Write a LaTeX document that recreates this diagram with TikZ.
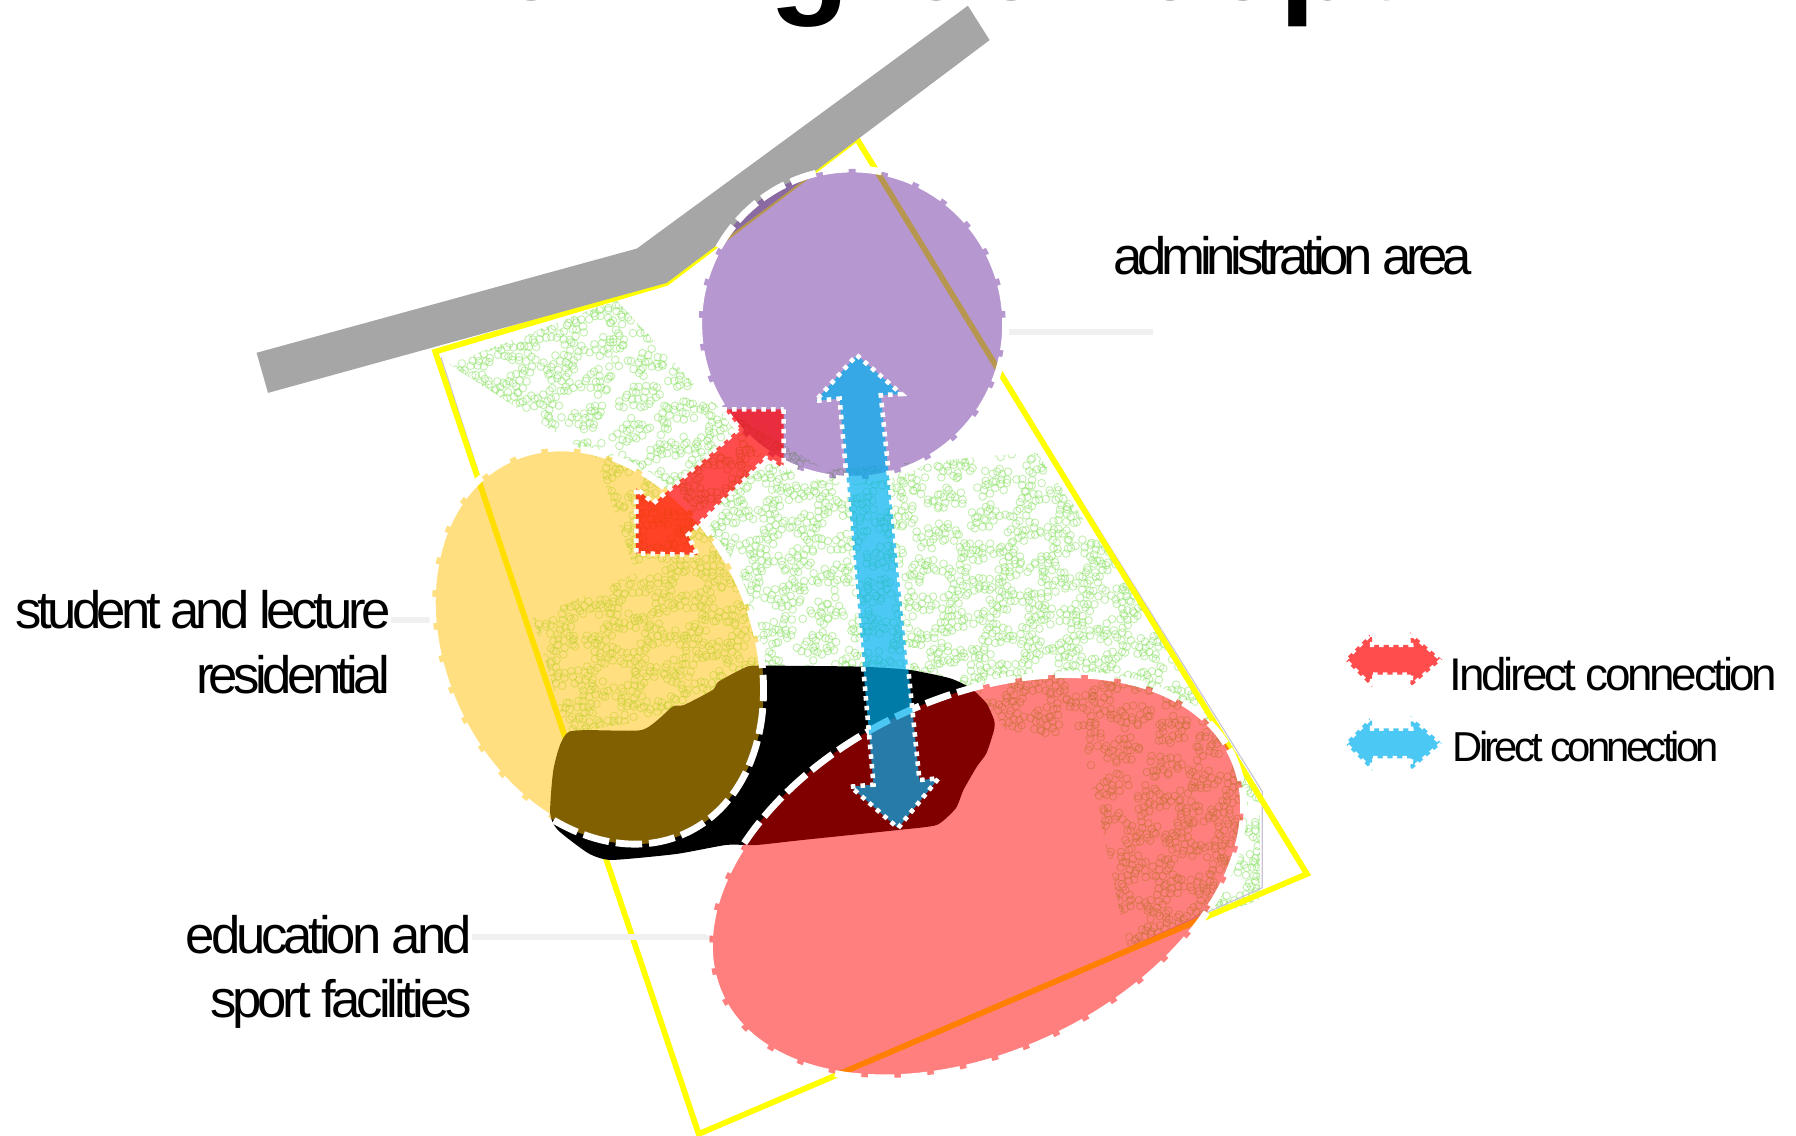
\documentclass[tikz,border=0pt]{standalone}
\usepackage{fontspec}
\setmainfont{Liberation Sans}
\newfontfamily\lblA[LetterSpace=-8.7]{Liberation Sans}
\newfontfamily\lblE[LetterSpace=-7.8]{Liberation Sans}
\newfontfamily\lblB[LetterSpace=-10]{Liberation Sans}
\newfontfamily\lblC[LetterSpace=-7.3]{Liberation Sans}
\newfontfamily\lblD[LetterSpace=-9]{Liberation Sans}
\definecolor{roadgray}{HTML}{A6A6A6}
\definecolor{plotyellow}{HTML}{FFFF00}
\definecolor{treegreen}{HTML}{86E05E}
\definecolor{edgegray}{HTML}{C8C4D4}
\definecolor{leadergray}{HTML}{F0F0F0}
\definecolor{zonepurple}{HTML}{7030A0}
\definecolor{zoneorange}{HTML}{FFC000}
\definecolor{zonered}{HTML}{FF0000}
\definecolor{linkblue}{HTML}{00B0F0}
\tikzset{
  zonefill/.style={fill opacity=.5,draw=none},
  zoneedge/.style={draw=white,line width=6pt,dash pattern=on 23pt off 6pt},
  linkarrow/.style={fill opacity=.7,draw=none},
  linkedge/.style={draw=white,line width=4pt,dash pattern=on 4pt off 4.5pt},
  leader/.style={draw=leadergray,line width=5pt},
  labeltext/.style={inner sep=0pt,text=black},
}
\begin{document}
\begin{tikzpicture}[x=1pt,y=-1pt]
\useasboundingbox (0,0) rectangle (1568,991);
\clip (0,0) rectangle (1568,991);
% tree pattern
\pgfmathsetseed{7}
\begin{scope}[draw=treegreen,draw opacity=.5,line width=.8pt]
\clip (392,318) -- (538,262) -- (620,350) -- (720,410) -- (905,395) -- (1000,530) -- (1100,690) -- (1100,785) -- (985,830) -- (955,690) -- (880,640) -- (850,600) -- (660,580) -- (640,600) -- (560,630) -- (495,640) -- (465,540) -- (555,500) -- (520,400) -- cycle;
\pgfsetstrokecolor{treegreen}
\foreach \ix in {0,...,133}{
 \foreach \iy in {0,...,107}{
  \pgfmathsetmacro{\px}{390+5.4*\ix+2.5*rand}
  \pgfmathsetmacro{\py}{262+5.4*\iy+2.5*rand}
  \pgfmathtruncatemacro{\inside}{(\py>640&&\px<950)||(\px>1000&&\py<520)||(\px>720&&\py<390)||(\px<460&&\py>400)||(\py>410&&\py<495&&\px<515)?0:1}
  \ifnum\inside=1
  \pgfmathtruncatemacro{\on}{sin(9.7*(\px-500)+3*(\py-500))+sin(3.7*(\px-500)-10.9*(\py-500))+sin(13*(\py-500)+5*(\px-500))+0.45*rand>-0.5?1:0}
  \ifnum\on=1
   \pgfpathcircle{\pgfqpoint{\px pt}{-\py pt}}{3.3pt}\pgfusepath{stroke}
  \fi
  \fi
 }}
\end{scope}
% site boundary
\draw[edgegray,line width=1pt] (385,312) -- (492,640);
\draw[edgegray,line width=1pt] (765,150) -- (1102,691) -- (1102,775) -- (975,832);
\draw[plotyellow,line width=5pt,line join=miter] (380,307) -- (582,247) -- (748,121) -- (1141,763) -- (610,990) -- cycle;
% road
\fill[roadgray] (845,5) -- (864,35) -- (582,247) -- (234,343) -- (224,308) -- (556,217) -- cycle;
% central black mass
\begin{scope}[shift={(366.7pt,-349.2pt)},x=.3341pt,y=-.291pt]
\fill[black] plot[smooth cycle,tension=.35] coordinates {(905,797)(1150,800)(1280,810)(1385,835)(1440,865)(1480,910)(1500,960)(1500,990)(1480,1060)(1455,1100)(1420,1170)(1400,1225)(1350,1275)(1250,1290)(1000,1320)(880,1335)(800,1335)(670,1362)(500,1380)(440,1360)(360,1290)(340,1240)(350,1100)(390,995)(580,990)(660,920)(690,915)(765,870)(780,845)(855,800)};
\end{scope}
% leaders' ends
\coordinate (adminEdge) at (875,290);
\coordinate (adminFree) at (1007,290);
\coordinate (resEdge) at (381,541);
\coordinate (eduEdge) at (622,818);
% labels
\node[labeltext,anchor=base west,font={\lblB\fontsize{46}{56}\selectfont}] (lbladmin) at (972,240) {administration area};
\node[labeltext,anchor=north east,align=right,font={\lblA\fontsize{46}{56.5}\selectfont}] (lblres) at (341,515) {student and lecture\\residential};
\node[labeltext,anchor=north east,align=right,font={\lblE\fontsize{46}{56}\selectfont}] (lbledu) at (412,799) {education and\\sport facilities};
\node[labeltext,anchor=base west,font={\lblC\fontsize{40}{48}\selectfont}] (lblind) at (1265.5,602.5) {Indirect connection};
\node[labeltext,anchor=base west,font={\lblD\fontsize{36.5}{44}\selectfont}] (lbldir) at (1268,665) {Direct connection};
\node[labeltext,anchor=base west,font={\bfseries\fontsize{115}{130}\selectfont}] (title) at (359,-0.8) {Zoning\hspace{42pt}concept};
\draw[leader] (adminEdge) -- (adminFree);
\draw[leader] (lblres.east |- resEdge) -- (resEdge);
\draw[leader] (lbledu.east |- eduEdge) -- (eduEdge);
% zones
\begin{scope}[shift={(522pt,-564pt)},rotate=25.6]
\fill[zoneorange,zonefill] (0,0) ellipse[x radius=135,y radius=180.5];
\draw[zoneedge] (0,0) ellipse[x radius=135,y radius=180.5];
\end{scope}
\begin{scope}[shift={(744pt,-283pt)}]
\fill[zonepurple,zonefill] (0,0) ellipse[x radius=134,y radius=135.5];
\draw[zoneedge] (0,0) ellipse[x radius=134,y radius=135.5];
\end{scope}
\begin{scope}[shift={(852.5pt,-765pt)},rotate=25.2]
\fill[zonered,zonefill] (0,0) ellipse[x radius=247,y radius=156];
\draw[zoneedge] (0,0) ellipse[x radius=247,y radius=156];
\end{scope}
% connection arrows
\begin{scope}[shift={(366.7pt,-349.2pt)},x=.3341pt,y=-.291pt]
\fill[zonered,linkarrow] (950,28) -- (950,205) -- (905,175) -- (700,405) -- (725,465) -- (565,460) -- (565,265) -- (610,310) -- (835,85) -- (795,28) -- cycle;
\draw[linkedge] (950,28) -- (950,205) -- (905,175) -- (700,405) -- (725,465) -- (565,460) -- (565,265) -- (610,310) -- (835,85) -- (795,28) -- cycle;
\end{scope}
\fill[linkblue,linkarrow] (748,310) -- (787,344) -- (769,345) -- (802.7,681) -- (819.4,679.5) -- (784,723) -- (742.6,686.8) -- (762.6,685) -- (733,348) -- (712,350) -- cycle;
\draw[linkedge] (748,310) -- (787,344) -- (769,345) -- (802.7,681) -- (819.4,679.5) -- (784,723) -- (742.6,686.8) -- (762.6,685) -- (733,348) -- (712,350) -- cycle;
% legend arrows
\fill[zonered,linkarrow] (1174,576) -- (1198,552) -- (1198,563) -- (1232,563) -- (1231,552) -- (1259,576) -- (1231,600) -- (1232,589) -- (1198,589) -- (1198,600) -- cycle;
\draw[linkedge] (1174,576) -- (1198,552) -- (1198,563) -- (1232,563) -- (1231,552) -- (1259,576) -- (1231,600) -- (1232,589) -- (1198,589) -- (1198,600) -- cycle;
\fill[linkblue,linkarrow] (1174,649) -- (1198,625) -- (1198,636) -- (1232,636) -- (1231,625) -- (1259,649) -- (1231,673) -- (1232,662) -- (1198,662) -- (1198,673) -- cycle;
\draw[linkedge] (1174,649) -- (1198,625) -- (1198,636) -- (1232,636) -- (1231,625) -- (1259,649) -- (1231,673) -- (1232,662) -- (1198,662) -- (1198,673) -- cycle;
\end{tikzpicture}
\end{document}
